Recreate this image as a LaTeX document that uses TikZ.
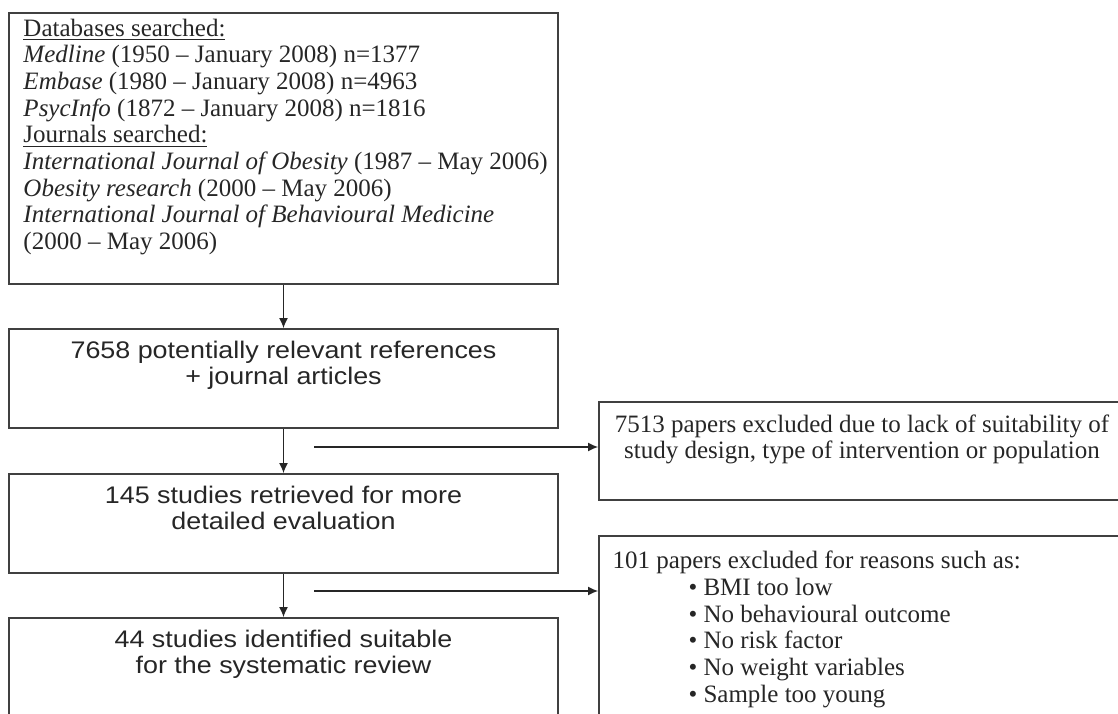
\documentclass[tikz,border=0pt]{standalone}
\usepackage{fontspec}
\setmainfont{Liberation Serif}
\newfontfamily\arialfont[FakeStretch=1.12]{Liberation Sans}
\usetikzlibrary{positioning,arrows.meta}

\begin{document}
\begin{tikzpicture}[x=0.5pt,y=-0.5pt,
  box/.style={draw=black!75,line width=0.9pt,inner sep=0pt},
  serif/.style={font=\fontsize{12.5}{13.33}\selectfont,text=black!85,inner sep=0pt},
  sans/.style={font=\arialfont\fontsize{12}{13}\selectfont,text=black!85,inner sep=0pt,align=center},
  flow/.style={black!85,line width=0.7pt,-{Latex[length=5pt,width=4.5pt]}}]
  \useasboundingbox (0,0) rectangle (1118,713);
  \clip (0,0) rectangle (1118,713);
  % Sources searched
  \node[box,minimum width=274.5pt,minimum height=135.5pt] (search) at (283.5,148.5) {};
  \node[serif,align=left,below right=3.2pt and 7.5pt of search.north west] (sources) {%
    \underline{Databases searched:}\\
    \textit{Medline} (1950 – January 2008) n=1377\\
    \textit{Embase} (1980 – January 2008) n=4963\\
    \textit{PsycInfo} (1872 – January 2008) n=1816\\
    \underline{Journals searched:}\\
    \textit{International Journal of Obesity} (1987 – May 2006)\\
    \textit{Obesity research} (2000 – May 2006)\\
    \textit{International Journal of Behavioural Medicine}\\
    (2000 – May 2006)};
  % Main flow
  \node[box,minimum width=274.5pt,minimum height=49.5pt] (refs) at (283.5,378.5) {};
  \node[sans,below=6.5pt of refs.north] (refstext) {7658 potentially relevant references\\+ journal articles};
  \node[box,minimum width=274.5pt,minimum height=49.5pt] (retrieved) at (283.5,523.5) {};
  \node[sans,below=6.3pt of retrieved.north] (retrievedtext) {145 studies retrieved for more\\detailed evaluation};
  \node[box,minimum width=274.5pt,minimum height=49.5pt] (suitable) at (283.5,667.5) {};
  \node[sans,below=6.3pt of suitable.north] (suitabletext) {44 studies identified suitable\\for the systematic review};
  % Exclusions
  \node[box,minimum width=263pt,minimum height=49pt] (design) at (862,451) {};
  \node[serif,align=center,below=6.5pt of design.north] (designtext) {7513 papers excluded due to lack of suitability of\\study design, type of intervention or population};
  \node[box,minimum width=263pt,minimum height=100pt] (reasons) at (862,636) {};
  \node[serif,align=left,below right=7.8pt and 7pt of reasons.north west] (reasonstext) {%
    101 papers excluded for reasons such as:\\
    \hspace*{38pt}\textbullet\ BMI too low\\
    \hspace*{38pt}\textbullet\ No behavioural outcome\\
    \hspace*{38pt}\textbullet\ No risk factor\\
    \hspace*{38pt}\textbullet\ No weight variables\\
    \hspace*{38pt}\textbullet\ Sample too young};
  % Arrows
  \draw[flow] (search) -- (refs);
  \draw[flow] (refs) -- (retrieved);
  \draw[flow] (retrieved) -- (suitable);
  \coordinate (cut1) at (314,447);
  \coordinate (cut2) at (314,591);
  \draw[flow] (cut1) -- (cut1 -| design.west);
  \draw[flow] (cut2) -- (cut2 -| reasons.west);
\end{tikzpicture}
\end{document}
